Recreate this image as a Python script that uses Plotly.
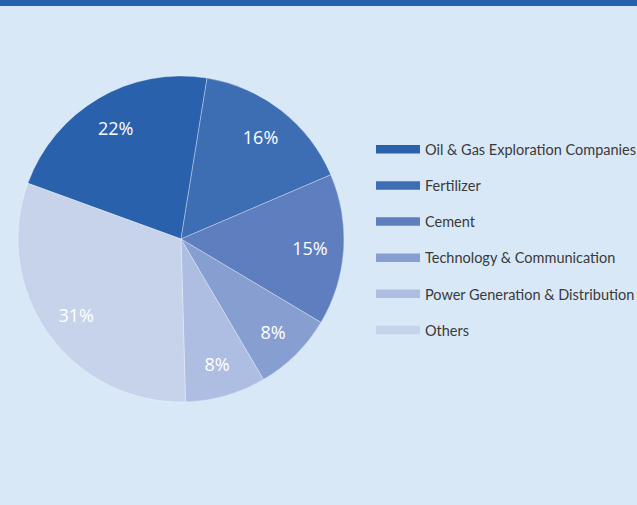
import plotly.graph_objects as go

labels = ["Oil & Gas Exploration Companies", "Fertilizer", "Cement",
          "Technology & Communication", "Power Generation & Distribution", "Others"]
values = [22, 16, 15, 8, 8, 31]
colors = ["#2961ad", "#3d6eb4", "#5e7ebf", "#879fd0", "#aebde2", "#c7d3eb"]

BG = "#d9e8f7"
W, H = 637, 505
DOMAIN = dict(x=[18/W, 344/W], y=[1-402/H, 1-76/H])

fig = go.Figure()
# filled slices
fig.add_trace(go.Pie(
    labels=labels, values=values, sort=False, direction="clockwise", rotation=-70,
    marker=dict(colors=colors, line=dict(color="rgba(255,255,255,0.45)", width=0.7)),
    textinfo="none", domain=DOMAIN, showlegend=False, hoverinfo="label+percent",
))
# percentage labels placed in outer ring
fig.add_trace(go.Pie(
    labels=labels, values=values, sort=False, direction="clockwise", rotation=-70,
    hole=0.585,
    marker=dict(colors=["rgba(0,0,0,0)"] * len(values), line=dict(width=0)),
    texttemplate="%{percent:.0%}", textposition="inside",
    insidetextorientation="horizontal",
    textfont=dict(family="Open Sans", size=18, color="white"),
    domain=DOMAIN, showlegend=False, hoverinfo="skip",
))

# legend entries as wide bars (line symbols)
for lab, col in zip(labels, colors):
    fig.add_trace(go.Scatter(
        x=[None], y=[None], mode="lines", name=lab, legendgroup=lab,
        line=dict(color=col, width=8.5), hoverinfo="skip",
    ))

fig.update_layout(
    width=W, height=H, autosize=False,
    margin=dict(l=0, r=0, t=0, b=0, autoexpand=False),
    paper_bgcolor=BG, plot_bgcolor=BG,
    xaxis=dict(visible=False), yaxis=dict(visible=False),
    legend=dict(
        xref="container", yref="container",
        x=0.5824, y=0.736, xanchor="left", yanchor="top",
        bgcolor="rgba(0,0,0,0)", font=dict(family="Lato", size=14.5, color="#3a3a3a"),
        itemwidth=44, tracegroupgap=14.3,
    ),
    shapes=[dict(type="rect", xref="paper", yref="paper", x0=0, x1=1,
                 y0=1-6/H, y1=1, fillcolor="#2761ad", line=dict(width=0), layer="above")],
)

post = (
    "document.body.style.margin='0';"
    "document.body.style.overflow='hidden';"
)
fig.write_html("out.html", post_script=post, config={"displayModeBar": False, "responsive": False})
